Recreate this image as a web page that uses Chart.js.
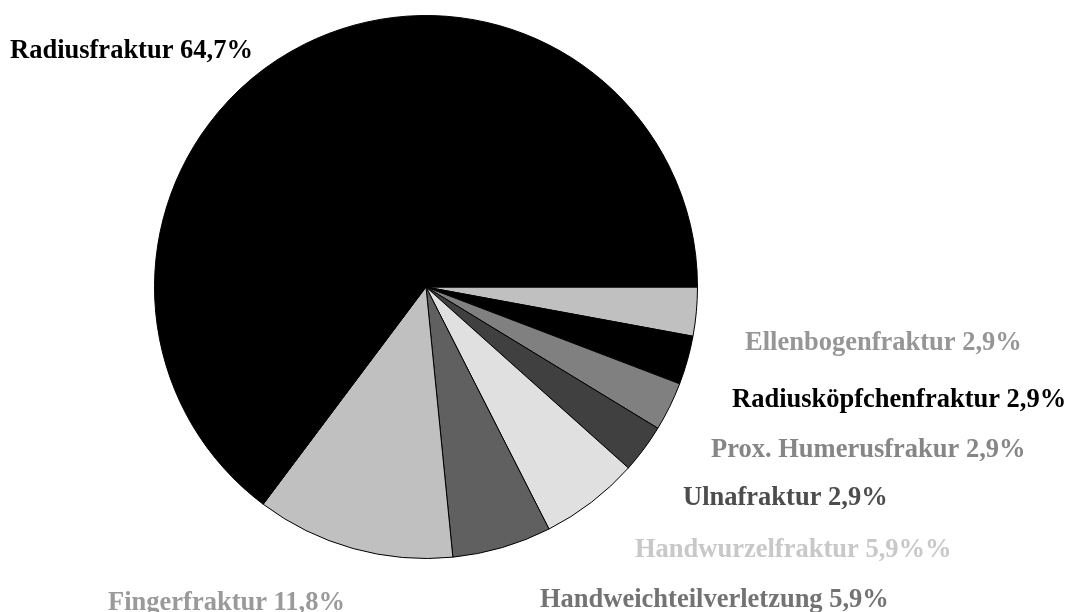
<!DOCTYPE html>
<html>
<head>
<meta charset="utf-8">
<script src="https://cdn.jsdelivr.net/npm/chart.js@4"></script>
<style>
  html, body { margin: 0; padding: 0; background: #fff; }
  #wrap { width: 1077px; height: 612px; }
</style>
</head>
<body>
<div id="wrap"><canvas id="pieChart" width="1077" height="612"></canvas></div>
<script>
// Data (clockwise from 3 o'clock)
const categories = ['Ellenbogenfraktur', 'Radiusköpfchenfraktur', 'Prox. Humerusfrakur', 'Ulnafraktur',
    'Handwurzelfraktur', 'Handweichteilverletzung', 'Fingerfraktur', 'Radiusfraktur'];
const shares = [2.9, 2.9, 2.9, 2.9, 5.9, 5.9, 11.8, 64.7];
const labelTexts = ['Ellenbogenfraktur 2,9%', 'Radiusköpfchenfraktur 2,9%', 'Prox. Humerusfrakur 2,9%', 'Ulnafraktur 2,9%',
    'Handwurzelfraktur 5,9%%', 'Handweichteilverletzung 5,9%', 'Fingerfraktur 11,8%', 'Radiusfraktur 64,7%'];

// Styles
const sliceColors = ['#c0c0c0', '#000000', '#808080', '#404040', '#e0e0e0', '#606060', '#c0c0c0', '#000000'];
const labelColors = ['#969696', '#000000', '#868686', '#4d4d4d', '#c8c8c8', '#737373', '#9a9a9a', '#000000'];
// label anchor (left x, middle y) in canvas pixels
const labelSpots = [[745, 343], [732, 400], [711, 450], [683, 498], [635, 550], [540, 600], [108, 603], [10, 51]];

const labelPlugin = {
    id: 'sliceLabels',
    afterDraw(chart) {
        const ctx = chart.ctx;
        ctx.save();
        ctx.font = 'bold 26.5px "Liberation Serif", "DejaVu Serif", serif';
        ctx.textAlign = 'left';
        ctx.textBaseline = 'middle';
        labelTexts.forEach((txt, i) => {
            ctx.fillStyle = labelColors[i];
            ctx.fillText(txt, labelSpots[i][0], labelSpots[i][1]);
        });
        ctx.restore();
    }
};

new Chart(document.getElementById('pieChart').getContext('2d'), {
    type: 'pie',
    data: {
        labels: categories,
        datasets: [{
            data: shares,
            backgroundColor: sliceColors,
            borderColor: '#000000',
            borderWidth: 1
        }]
    },
    options: {
        responsive: false,
        animation: false,
        rotation: 90,
        layout: { padding: { left: 154, right: 379, top: 15, bottom: 53 } },
        plugins: { legend: { display: false }, tooltip: { enabled: false } }
    },
    plugins: [labelPlugin]
});
</script>
</body>
</html>
